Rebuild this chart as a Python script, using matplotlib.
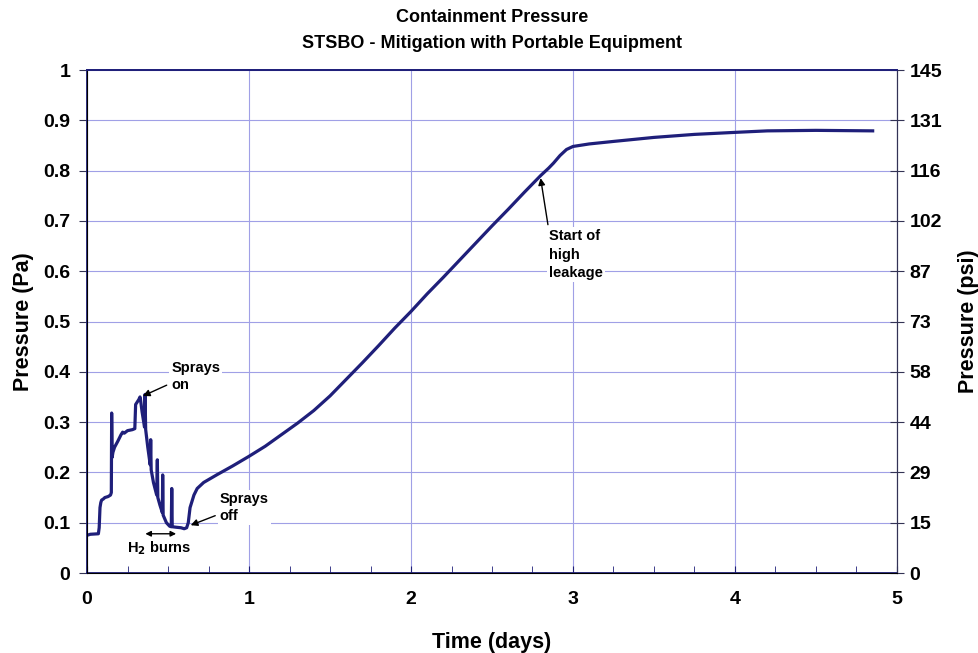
import matplotlib
matplotlib.use('Agg')
import matplotlib.pyplot as plt
import numpy as np

plt.rcParams['font.family'] = ['Liberation Sans', 'DejaVu Sans']
plt.rcParams['font.weight'] = 'bold'

# time in days, pressure in MPa (labelled Pa on the chart)
days = [0.0, 0.02, 0.07, 0.075, 0.08, 0.085, 0.09, 0.10, 0.11, 0.13, 0.145, 0.15,
        0.152, 0.155, 0.16, 0.17, 0.19, 0.21, 0.22, 0.23, 0.25, 0.28, 0.295, 0.30,
        0.31, 0.32, 0.327, 0.33, 0.34, 0.355, 0.358, 0.362, 0.375, 0.39, 0.393, 0.396,
        0.41, 0.43, 0.434, 0.437, 0.45, 0.465, 0.467, 0.47, 0.49, 0.51, 0.52, 0.523,
        0.526, 0.55, 0.58, 0.60, 0.615, 0.625, 0.636, 0.66, 0.68, 0.72, 0.80, 0.90,
        1.0, 1.1, 1.2, 1.3, 1.4, 1.5, 1.6, 1.7, 1.8, 1.9, 2.0, 2.1, 2.2, 2.3, 2.4,
        2.5, 2.6, 2.7, 2.8, 2.85, 2.88, 2.92, 2.96, 3.0, 3.1, 3.25, 3.5, 3.75, 4.0,
        4.2, 4.5, 4.85]
pressure = [0.075, 0.077, 0.078, 0.09, 0.13, 0.14, 0.145, 0.147, 0.15, 0.152, 0.155, 0.16,
            0.318, 0.23, 0.24, 0.25, 0.262, 0.275, 0.28, 0.278, 0.283, 0.285, 0.287, 0.335,
            0.34, 0.345, 0.35, 0.345, 0.32, 0.29, 0.355, 0.285, 0.25, 0.215, 0.265, 0.205,
            0.18, 0.155, 0.225, 0.15, 0.135, 0.12, 0.195, 0.115, 0.10, 0.093, 0.092, 0.168,
            0.092, 0.091, 0.09, 0.088, 0.09, 0.10, 0.13, 0.155, 0.168, 0.18, 0.195, 0.213,
            0.232, 0.252, 0.275, 0.298, 0.323, 0.352, 0.385, 0.418, 0.452, 0.487, 0.52,
            0.555, 0.588, 0.622, 0.656, 0.69, 0.723, 0.757, 0.79, 0.805, 0.815, 0.83,
            0.842, 0.848, 0.853, 0.858, 0.866, 0.872, 0.876, 0.879, 0.88, 0.879]

y_ticks = [0, 0.1, 0.2, 0.3, 0.4, 0.5, 0.6, 0.7, 0.8, 0.9, 1]
y_labels = ['0', '0.1', '0.2', '0.3', '0.4', '0.5', '0.6', '0.7', '0.8', '0.9', '1']
psi_labels = ['0', '15', '29', '44', '58', '73', '87', '102', '116', '131', '145']
x_ticks = [0, 1, 2, 3, 4, 5]

navy = '#1f1f7a'
grid_c = '#a0a0e6'
dark = '#333355'

fig = plt.figure(figsize=(9.79, 6.53), dpi=100)
ax = fig.add_axes([0.0889, 0.1225, 0.8273, 0.7703])

ax.plot(days, pressure, color=navy, lw=2.3, zorder=3)

ax.set_xlim(0, 5)
ax.set_ylim(0, 1)
ax.set_xticks(x_ticks)
ax.set_xticks(np.arange(0, 5.01, 0.25), minor=True)
ax.set_yticks(y_ticks)
ax.set_yticklabels(y_labels)
ax.grid(True, color=grid_c, lw=0.8)
ax.tick_params(axis='x', which='both', direction='in', length=5, color=navy,
               labelsize=14, pad=13)
ax.tick_params(axis='y', direction='out', length=6, color=dark, labelsize=14, pad=6)
for s in ['left', 'bottom', 'top']:
    ax.spines[s].set_color(navy)
    ax.spines[s].set_linewidth(1.3)
ax.spines['right'].set_color(dark)

ax.set_xlabel('Time (days)', fontsize=15.5, fontweight='bold')
ax.set_ylabel('Pressure (Pa)', fontsize=15.5, fontweight='bold')
ax.xaxis.set_label_coords(0.5, -0.117)
ax.yaxis.set_label_coords(-0.066, 0.5)

ax2 = ax.twinx()
ax2.set_ylim(0, 1)
ax2.set_yticks(y_ticks)
ax2.set_yticklabels(psi_labels)
ax2.tick_params(axis='y', direction='inout', length=10, color=dark, labelsize=14, pad=4)
ax2.set_ylabel('Pressure (psi)', fontsize=15.5, fontweight='bold')
ax2.yaxis.set_label_coords(1.075, 0.5)
ax2.spines['right'].set_color(dark)
ax2.spines['top'].set_color(navy)
ax2.spines['top'].set_linewidth(1.3)

fig.text(0.5025, 1 - 17 / 653, 'Containment Pressure', fontsize=13, fontweight='bold',
         ha='center', va='center')
fig.text(0.5025, 1 - 43 / 653, 'STSBO - Mitigation with Portable Equipment', fontsize=13,
         fontweight='bold', ha='center', va='center')

box = dict(facecolor='white', edgecolor='none', pad=1.5)
arr = dict(arrowstyle='-|>', color='black', lw=1, mutation_scale=10)
fs = 10.5

ax.annotate('Sprays\non', xy=(0.345, 0.352), xytext=(0.52, 0.39), fontsize=fs,
            fontweight='bold', ha='left', va='center', bbox=box, linespacing=1.3,
            arrowprops=dict(arr, shrinkB=0, shrinkA=2, relpos=(0, 0.3)))
ax.annotate('Sprays\noff', xy=(0.64, 0.095), xytext=(0.82, 0.13), fontsize=fs,
            fontweight='bold', ha='left', va='center', bbox=box, linespacing=1.3,
            arrowprops=dict(arr, shrinkB=0, shrinkA=2, relpos=(0, 0.3)))
ax.annotate('', xy=(0.36, 0.078), xytext=(0.55, 0.078),
            arrowprops=dict(arrowstyle='<|-|>', color='black', lw=1, mutation_scale=8,
                            shrinkA=0, shrinkB=0))
ax.text(0.245, 0.05, 'H$_2$ burns', fontsize=fs, fontweight='bold', ha='left',
        va='center', bbox=box)
ax.annotate('Start of\nhigh\nleakage', xy=(2.80, 0.785), xytext=(2.85, 0.683),
            fontsize=fs, fontweight='bold', ha='left', va='top', bbox=box,
            linespacing=1.4,
            arrowprops=dict(arr, shrinkB=0, shrinkA=2, relpos=(0, 1)))

fig.savefig('out.png', dpi=100)
